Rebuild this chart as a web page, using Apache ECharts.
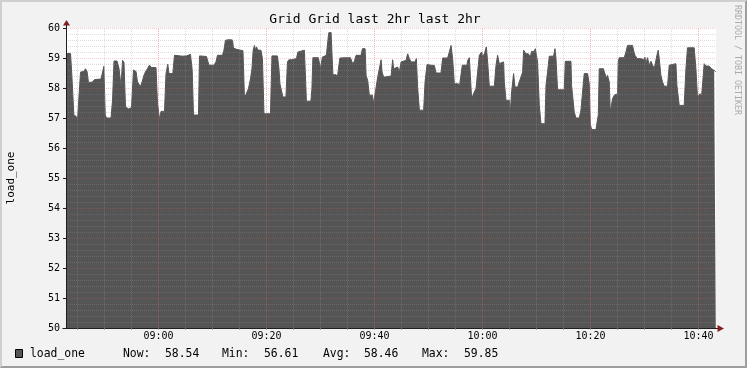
<!DOCTYPE html>
<html>
<head>
<meta charset="utf-8">
<script src="https://cdn.jsdelivr.net/npm/echarts@6.0.0/dist/echarts.min.js"></script>
<style>
html,body{margin:0;padding:0;background:#F2F2F2;overflow:hidden;}
#wrap{position:relative;width:747px;height:368px;}
#chart{position:absolute;left:0;top:0;width:747px;height:368px;}
#frame{position:absolute;left:0;top:0;width:747px;height:368px;box-sizing:border-box;border-style:solid;border-width:2px;border-color:#CFCFCF #9E9E9E #9E9E9E #CFCFCF;pointer-events:none;}
</style>
</head>
<body>
<div id="wrap"><div id="chart"></div><div id="frame"></div></div>
<script>
// ---------- text ----------
const chartTitle = 'Grid Grid last 2hr last 2hr';
const seriesName = 'load_one';
const yAxisTitle = 'load_one';
const watermark = 'RRDTOOL / TOBI OETIKER';

// ---------- axes ----------
const BASE_MINUTE = 540;            // 09:00, times below are minutes relative to it
const X_MIN = -17.13, X_MAX = 103.24;
const Y_MIN = 50, Y_MAX = 60, Y_STEP = 1;
const xLabelMinutes = [0, 20, 40, 60, 80, 100];
const xMinorStep = 5, xMajorStep = 20;
const yMinorSplit = 5;

// ---------- legend stats ----------
const statLabels = ['Now:', 'Min:', 'Avg:', 'Max:'];
const statValues = ['58.54', '56.61', '58.46', '59.85'];

// ---------- data (minutes from 09:00, load_one) ----------
const times = [
-17.0,-16.29,-16.01,-15.68,-15.23,-14.99,-14.71,-14.44,-13.88,-13.51,
-13.23,-12.96,-12.22,-11.85,-10.64,-10.31,-10.12,-9.86,-9.62,-8.79,
-8.51,-8.24,-7.68,-7.31,-6.94,-6.66,-6.39,-6.11,-5.55,-5.00,
-4.63,-4.16,-3.89,-3.52,-3.33,-3.05,-2.59,-2.04,-1.67,-1.30,
-0.46,-0.19,0.19,0.46,1.11,1.39,1.72,1.94,2.65,2.96,
3.33,4.44,4.81,5.18,5.92,6.24,6.48,7.40,
7.59,8.88,9.35,10.27,10.64,10.92,11.85,12.12,12.40,12.96,
13.70,13.88,14.44,14.81,15.18,15.64,15.92,16.29,16.66,17.03,
17.31,17.53,17.77,17.95,18.14,18.42,18.97,19.25,19.53,20.73,
21.01,22.02,22.30,22.49,22.77,23.04,23.60,23.88,24.15,24.62,
24.89,25.54,25.82,26.10,27.02,27.15,27.39,28.22,28.41,28.59,
29.61,29.98,30.35,31.09,
31.37,31.52,31.96,32.11,32.30,32.89,33.13,33.41,33.59,34.74,
35.07,35.54,35.72,35.96,36.28,36.59,37.52,37.76,38.26,38.44,
38.74,39.05,39.61,39.85,40.11,40.48,40.59,40.90,41.22,41.40,
41.70,41.92,43.07,43.36,43.55,43.81,44.29,44.60,44.92,45.16,
45.84,46.14,46.46,46.77,47.51,47.75,47.99,48.31,49.10,49.36,
49.73,50.47,51.08,51.40,52.32,52.62,53.54,53.86,54.17,54.47,
54.78,
55.52,55.71,56.02,56.26,57.13,57.25,57.56,57.75,57.99,58.36,
58.49,58.80,59.10,59.41,59.73,59.84,60.02,60.34,60.71,60.84,
60.95,61.26,62.19,62.32,62.50,62.80,63.11,63.43,63.91,64.04,
64.35,64.96,65.15,65.39,65.76,66.02,66.50,66.81,67.13,67.43,
67.61,67.87,68.05,68.48,68.85,69.09,69.59,69.78,70.09,70.20,
70.52,70.83,71.57,71.76,72.05,72.37,73.16,73.42,73.61,73.90,
75.14,75.33,76.38,76.49,76.99,77.31,77.92,78.23,78.53,78.84,
79.46,79.77,79.96,80.20,81.01,81.20,81.44,81.62,82.42,82.55,
82.86,83.05,83.16,83.47,83.66,83.90,84.08,84.40,84.71,85.01,
85.14,85.32,86.25,86.56,86.86,87.78,87.97,88.23,88.65,89.34,
89.45,89.82,90.08,90.26,90.56,90.87,91.19,91.49,91.80,92.12,
92.30,92.54,92.73,93.04,93.34,93.65,94.26,94.58,94.76,95.82,
96.00,96.43,97.35,97.67,97.96,99.20,99.52,99.81,100.13,100.31,
100.56,100.74,101.05,101.37,101.98,102.17,102.41,102.59,102.90,103.2
];
const loadOne = [
59.15,59.15,58.3,57.1,57.05,56.95,56.95,58.53,58.55,58.64,
58.55,58.18,58.2,58.28,58.3,58.27,58.72,57.1,57.0,57.0,
57.6,58.9,58.9,58.65,58.05,58.92,58.85,57.37,57.3,57.35,
58.6,58.55,58.2,58.2,58.05,58.2,58.48,58.65,58.76,58.68,
58.68,57.5,56.95,57.22,57.22,58.48,58.79,58.48,58.48,59.09,
59.06,59.06,59.03,59.07,59.12,58.6,57.1,57.1,
59.07,59.05,58.76,58.76,58.87,59.09,59.09,59.26,59.59,59.61,
59.6,59.33,59.29,59.29,59.26,59.24,57.67,57.67,57.98,58.3,
58.65,59.26,59.42,59.26,59.37,59.26,59.26,58.98,57.14,57.14,
59.07,59.07,58.65,58.14,58.14,57.7,57.7,58.87,58.94,58.94,
58.98,58.98,59.2,59.26,59.26,59.2,57.56,57.56,57.98,59.01,
59.01,58.64,59.03,59.09,
59.09,59.84,59.85,59.2,58.44,58.44,58.37,58.37,59.0,59.01,
58.98,59.01,59.01,58.81,58.89,59.09,59.09,59.31,59.31,58.42,
58.25,57.76,57.76,57.48,57.81,57.81,58.36,58.42,58.94,58.53,
58.36,58.42,58.4,58.94,58.64,58.7,58.7,58.53,58.87,58.92,
58.92,59.14,58.98,58.87,58.87,58.98,58.03,57.26,57.26,58.2,
58.78,58.76,58.75,58.5,58.5,59.0,59.0,59.2,59.42,58.98,
58.14,
58.14,58.03,58.03,58.76,58.76,58.92,59.01,58.42,57.64,57.64,
57.87,57.98,58.53,59.09,59.09,59.2,59.03,59.14,59.37,59.37,
58.87,58.06,58.06,58.09,58.76,59.09,58.81,58.87,58.87,58.2,
57.59,57.59,57.2,57.87,58.48,58.03,58.03,58.2,58.37,58.53,
59.26,59.26,59.14,59.14,59.03,59.22,59.22,59.31,59.31,58.87,
57.42,56.81,56.81,58.09,58.53,59.06,59.06,59.31,58.98,57.94,
57.94,58.89,58.89,58.09,57.2,57.0,57.0,57.26,57.87,58.48,
58.48,58.14,56.8,56.62,56.61,56.84,57.09,58.64,58.64,58.53,
58.48,58.31,58.42,58.2,57.2,57.2,57.64,57.76,57.81,57.81,
58.87,59.01,59.01,59.2,59.42,59.42,59.26,59.09,58.98,58.98,
59.01,58.94,59.03,58.81,59.01,58.76,58.89,58.92,58.64,58.64,
59.09,59.26,58.98,58.42,58.2,58.06,58.06,58.76,58.81,58.81,
58.09,57.42,57.42,58.64,59.34,59.34,58.64,57.7,57.7,57.81,
57.7,57.76,58.81,58.73,58.73,58.78,58.64,58.7,58.59,58.54
];

// ---------- styling ----------
const FONT = 'DejaVu Sans Mono';
const AREA = '#555555';
const GRID_MINOR = 'rgba(150,150,150,0.32)';
const GRID_MAJOR = 'rgba(225,90,90,0.30)';
const AXIS_COLOR = '#1F1F1F';
const ARROW_COLOR = '#801F1F';

function fmtTime(v) {
  const m = Math.round(BASE_MINUTE + v);
  return String(Math.floor(m / 60)).padStart(2, '0') + ':' + String(m % 60).padStart(2, '0');
}

const vLines = [];
const xMinorTicks = [];
for (let m = Math.ceil(X_MIN / xMinorStep) * xMinorStep; m <= X_MAX; m += xMinorStep) {
  xMinorTicks.push(m);
  vLines.push({ xAxis: m, lineStyle: { color: (m % xMajorStep === 0) ? 'rgba(225,90,90,0.45)' : GRID_MINOR, type: 'dotted', width: 1 } });
}

const chart = echarts.init(document.getElementById('chart'), null, { renderer: 'canvas' });

const option = {
  animation: false,
  backgroundColor: '#F2F2F2',
  grid: { left: 66, right: 31, top: 28, bottom: 40, show: true, backgroundColor: '#FFFFFF', borderWidth: 0 },
  xAxis: {
    type: 'value', min: X_MIN, max: X_MAX, z: 5,
    axisLine: { show: true, onZero: false, lineStyle: { color: AXIS_COLOR, width: 1 } },
    axisTick: { show: true, customValues: xMinorTicks, length: 2, lineStyle: { color: 'rgba(143,143,143,0.75)' } },
    axisLabel: { customValues: xLabelMinutes, formatter: fmtTime, fontFamily: FONT, fontSize: 10, color: '#000', margin: 3 },
    splitLine: { show: false }
  },
  yAxis: {
    type: 'value', min: Y_MIN, max: Y_MAX, interval: Y_STEP, z: 5,
    axisLine: { show: true, onZero: false, lineStyle: { color: AXIS_COLOR, width: 1 } },
    axisTick: { show: true, length: 3, lineStyle: { color: AXIS_COLOR } },
    axisLabel: { fontFamily: FONT, fontSize: 10, color: '#000', margin: 6 },
    splitLine: { show: true, lineStyle: { color: GRID_MAJOR, type: 'dotted', width: 1 } },
    minorTick: { show: false, splitNumber: yMinorSplit },
    minorSplitLine: { show: true, lineStyle: { color: GRID_MINOR, type: 'dotted', width: 1 } }
  },
  series: [
    {
      name: seriesName, type: 'line', z: 2,
      data: times.map((t, i) => [t, loadOne[i]]),
      showSymbol: false, symbol: 'none', smooth: false,
      lineStyle: { color: AREA, width: 1 },
      areaStyle: { color: AREA, opacity: 1, origin: 'start' },
      silent: true, clip: true
    },
    {
      name: 'vgrid', type: 'line', data: [], z: 6, silent: true,
      markLine: { silent: true, symbol: ['none', 'none'], label: { show: false }, animation: false, data: vLines }
    }
  ]
};
chart.setOption(option);

// decorations computed from the axes
const pBL = chart.convertToPixel({ gridIndex: 0 }, [X_MIN, Y_MIN]);
const pTR = chart.convertToPixel({ gridIndex: 0 }, [X_MAX, Y_MAX]);
const axX = Math.round(pBL[0]) + 0.5;
const axY = Math.round(pBL[1]) + 0.5;
const plotTop = pTR[1], plotRight = pTR[0];

const statLabelX = [123, 222, 323, 422];
const statValueX = [165, 264, 364, 464];
const legendY = 354;

function txt(x, y, text, size, extra) {
  return Object.assign({ type: 'text', x: x, y: y, z: 20, style: { text: text, font: size + 'px "' + FONT + '"', fill: '#000', align: 'left', verticalAlign: 'middle', textAlign: 'left', textVerticalAlign: 'middle' } }, extra || {});
}

const gfx = [
  txt(375, 20, chartTitle, 13),
  txt(11.5, 178, yAxisTitle, 11, { rotation: Math.PI / 2 }),
  txt(737, 5, watermark, 8.3, { rotation: -Math.PI / 2 }),
  { type: 'line', z: 20, shape: { x1: axX, y1: plotTop, x2: axX, y2: plotTop - 3 }, style: { stroke: AXIS_COLOR, lineWidth: 1 } },
  { type: 'polygon', z: 20, shape: { points: [[axX, plotTop - 8], [axX - 3.5, plotTop - 2.5], [axX + 3.5, plotTop - 2.5]] }, style: { fill: ARROW_COLOR } },
  { type: 'line', z: 20, shape: { x1: plotRight, y1: axY, x2: plotRight + 2, y2: axY }, style: { stroke: AXIS_COLOR, lineWidth: 1 } },
  { type: 'polygon', z: 20, shape: { points: [[plotRight + 8, axY], [plotRight + 1.5, axY - 3.5], [plotRight + 1.5, axY + 3.5]] }, style: { fill: ARROW_COLOR } },
  { type: 'line', z: 20, shape: { x1: axX - 4, y1: axY, x2: axX, y2: axY }, style: { stroke: AXIS_COLOR, lineWidth: 1 } },
  { type: 'rect', z: 20, shape: { x: 15.5, y: 349.5, width: 7, height: 8 }, style: { fill: AREA, stroke: '#000', lineWidth: 1 } },
  txt(30, legendY, seriesName, 11.4)
];
gfx[0].style.align = 'center'; gfx[0].style.textAlign = 'center';
gfx[1].style.align = 'center'; gfx[1].style.textAlign = 'center';
gfx[2].style.fill = '#ABABAB';
statLabels.forEach((lab, i) => {
  gfx.push(txt(statLabelX[i], legendY, lab, 11.4));
  gfx.push(txt(statValueX[i], legendY, statValues[i], 11.4));
});
chart.setOption({ graphic: gfx });
</script>
</body>
</html>
